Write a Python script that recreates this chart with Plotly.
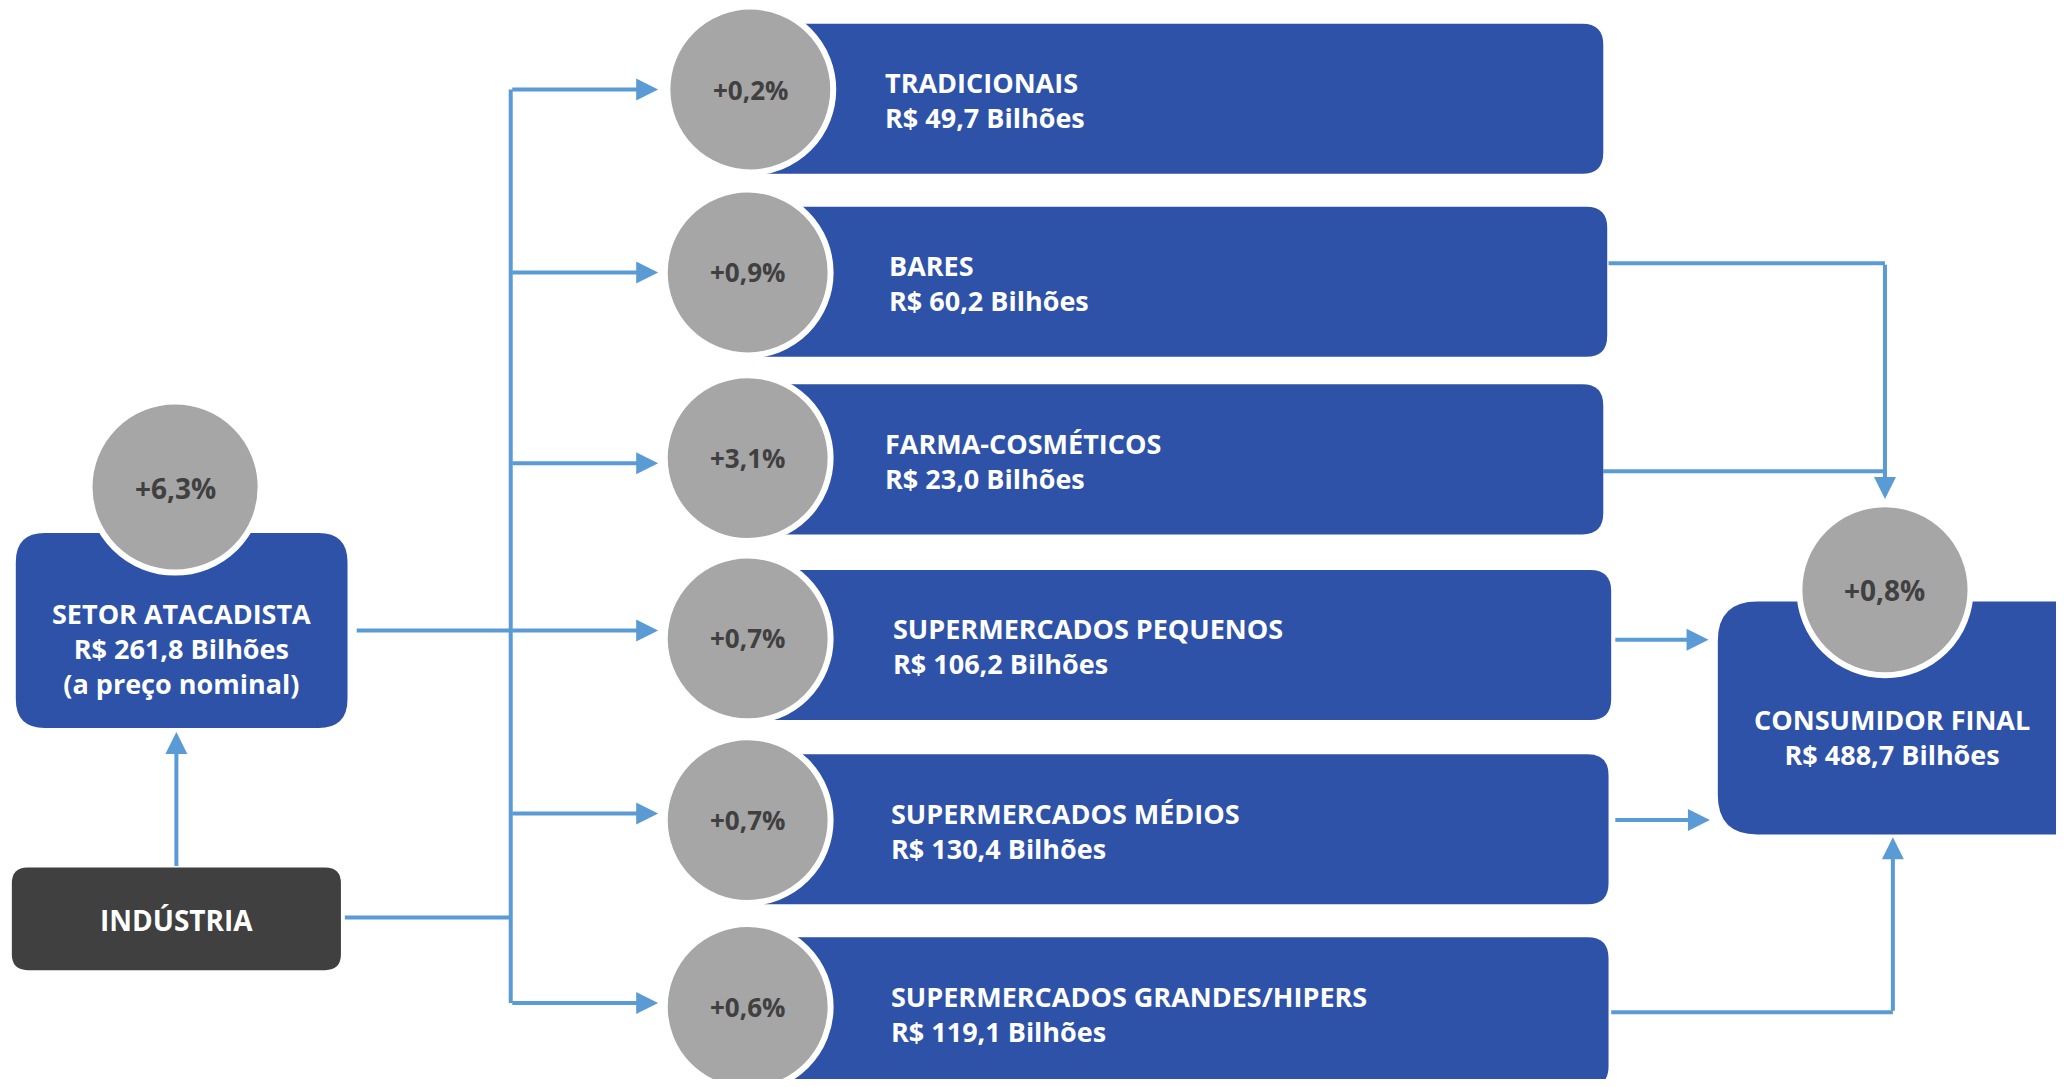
import plotly.graph_objects as go

# ---------------- data ----------------
channels = ["TRADICIONAIS", "BARES", "FARMA-COSMÉTICOS", "SUPERMERCADOS PEQUENOS",
            "SUPERMERCADOS MÉDIOS", "SUPERMERCADOS GRANDES/HIPERS"]
channel_values = [49.7, 60.2, 23.0, 106.2, 130.4, 119.1]      # R$ bilhões
channel_growth = [0.2, 0.9, 3.1, 0.7, 0.7, 0.6]               # %
wholesale_value = 261.8
wholesale_growth = 6.3
consumer_value = 488.7
consumer_growth = 0.8

# ---------------- layout (diagram units, 1568 x 826 canvas) ----------------
W, H = 1568, 826
K = 2064 / W            # screen px per diagram unit
PAGE_MARGIN = 8         # default body margin of the html page
bar_top = [18, 157, 292, 433, 573, 712]
bar_h = 114
bar_right = [1218, 1221, 1218, 1224, 1222, 1222]
circ_cx = [570, 568, 568, 568, 568, 568]
circ_cy = [68, 207, 348, 485, 623, 765]
circ_r = 63
text_x = [671, 674, 671, 677, 675, 675]
branch_y = [68, 207, 352, 479, 618, 762]

BLUE = "#2E52A8"
GREY = "#A6A6A6"
DARK = "#404040"
LINE = "#5B9BD5"
FONT = "Open Sans"


def fmt(v):
    return f"{v:.1f}".replace(".", ",")


def rrect(x0, y0, x1, y1, r):
    return (f"M {x0+r},{y0} L {x1-r},{y0} Q {x1},{y0} {x1},{y0+r} "
            f"L {x1},{y1-r} Q {x1},{y1} {x1-r},{y1} L {x0+r},{y1} "
            f"Q {x0},{y1} {x0},{y1-r} L {x0},{y0+r} Q {x0},{y0} {x0+r},{y0} Z")


shapes = []
annotations = []


def line(x0, y0, x1, y1):
    shapes.append(dict(type="line", xref="x", yref="y", x0=x0, y0=y0, x1=x1, y1=y1,
                       line=dict(color=LINE, width=4), layer="below"))


def arrow(x0, y0, x1, y1):
    annotations.append(dict(x=x1, y=y1, ax=x0, ay=y0, xref="x", yref="y",
                            axref="x", ayref="y", text="", showarrow=True,
                            arrowhead=2, arrowsize=1.1, arrowwidth=4,
                            arrowcolor=LINE, standoff=0, startstandoff=0))


def circle(cx, cy, r):
    shapes.append(dict(type="circle", xref="x", yref="y", x0=cx - r, x1=cx + r,
                       y0=cy - r, y1=cy + r, fillcolor=GREY,
                       line=dict(color="white", width=6)))


def text(x, y, s, size, color="white", anchor="left"):
    annotations.append(dict(x=x, y=y, xref="x", yref="y", text=s,
                            showarrow=False, xanchor=anchor, yanchor="middle",
                            align=anchor if anchor != "center" else "center",
                            font=dict(family=FONT, size=size, color=color)))


def bold_lines(*lines):
    return "<br>".join(f"<b>{l}</b>" for l in lines)


# connectors (left)
arrow(134, 659, 134, 556)
line(271, 479, 388, 479)
line(262, 697, 388, 697)
line(388, 68, 388, 762)
for y in branch_y:
    arrow(388, y, 500, y)

# connectors (right)
line(1222, 200, 1432, 200)
line(1218, 358, 1432, 358)
arrow(1432, 200, 1432, 379)
arrow(1226, 486, 1298, 486)
arrow(1226, 623, 1299, 623)
line(1224, 769, 1438, 769)
arrow(1438, 769, 1438, 636)

# channel bars + circles
for i, name in enumerate(channels):
    y0 = bar_top[i]
    shapes.append(dict(type="path", xref="x", yref="y",
                       path=rrect(circ_cx[i], y0, bar_right[i], y0 + bar_h, 16),
                       fillcolor=BLUE, line=dict(width=0)))
for i, name in enumerate(channels):
    circle(circ_cx[i], circ_cy[i], circ_r)
    text(circ_cx[i], circ_cy[i], bold_lines(f"+{fmt(channel_growth[i])}%"), 26, DARK, "center")
    yc = bar_top[i] + bar_h / 2
    text(text_x[i], yc + 1, bold_lines(name, f"R$ {fmt(channel_values[i])} Bilhões"), 27)

# wholesale box
shapes.append(dict(type="path", xref="x", yref="y", path=rrect(12, 405, 264, 553, 22),
                   fillcolor=BLUE, line=dict(width=0)))
circle(133, 370, 65)
text(133, 371, bold_lines(f"+{fmt(wholesale_growth)}%"), 28, DARK, "center")
text(138, 493, bold_lines("SETOR ATACADISTA", f"R$ {fmt(wholesale_value)} Bilhões",
                          "(a preço nominal)"), 27, anchor="center")

# industry box
shapes.append(dict(type="path", xref="x", yref="y", path=rrect(9, 659, 259, 737, 12),
                   fillcolor=DARK, line=dict(width=0)))
text(134, 699, bold_lines("INDÚSTRIA"), 28, anchor="center")

# consumer box
shapes.append(dict(type="path", xref="x", yref="y", path=rrect(1305, 457, 1600, 634, 30),
                   fillcolor=BLUE, line=dict(width=0)))
circle(1432, 448, 65)
text(1432, 448, bold_lines(f"+{fmt(consumer_growth)}%"), 28, DARK, "center")
text(1437, 560, bold_lines("CONSUMIDOR FINAL", f"R$ {fmt(consumer_value)} Bilhões"),
     27, anchor="center")

# figure sized to fit inside the page's 8px body margin, axes shifted to compensate
fig_w = 2064 - 2 * PAGE_MARGIN
fig_h = 1087 - 2 * PAGE_MARGIN
x_lo = PAGE_MARGIN / K
x_hi = (PAGE_MARGIN + fig_w) / K
y_lo = PAGE_MARGIN / K
y_hi = (PAGE_MARGIN + fig_h) / K

fig = go.Figure()
fig.add_trace(go.Scatter(x=[x_lo, x_hi], y=[y_lo, y_hi], mode="markers",
                         marker=dict(opacity=0), hoverinfo="skip", showlegend=False))
fig.update_layout(
    width=fig_w, height=fig_h,
    margin=dict(l=0, r=0, t=0, b=0, pad=0),
    paper_bgcolor="white", plot_bgcolor="white",
    xaxis=dict(range=[x_lo, x_hi], visible=False, fixedrange=True),
    yaxis=dict(range=[y_hi, y_lo], visible=False, fixedrange=True),
    shapes=shapes, annotations=annotations, showlegend=False,
)
fig.write_html("out.html", config={"displayModeBar": False})
